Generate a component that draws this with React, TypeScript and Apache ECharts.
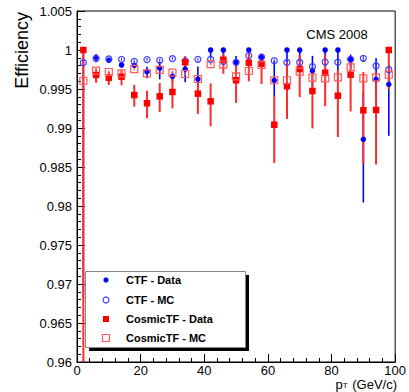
import React, { useEffect, useRef } from "react";
import * as echarts from "echarts";

const PT = [2, 6, 10, 14, 18, 22, 26, 30, 34, 38, 42, 46, 50, 54, 58, 62, 66, 70, 74, 78, 82, 86, 90, 94, 98];

const SERIES_NAMES = ["CTF - Data", "CTF - MC", "CosmicTF - Data", "CosmicTF - MC"];

const ctfData = [1.0, 0.99906, 0.99868, 0.99808, 0.99804, 0.99722, 0.99769, 0.99663, 0.99756, 0.99628, 1.0, 1.0, 0.99842, 1.0, 0.9991, 0.99612, 1.0, 1.0, 0.99735, 1.0, 1.0, 0.99881, 0.98855, 0.99624, 0.9956];
const ctfDataLo = [0.0318, 0.0005, 0.0003, 0.0004, 0.0003, 0.00085, 0.00145, 0.00064, 0.0017, 0.001, 0.001, 0.0008, 0.0008, 0.0007, 0.0008, 0.0021, 0.0016, 0.0016, 0.003, 0.0013, 0.0026, 0.0012, 0.0081, 0.003, 0.0066];
const ctfDataHi = [0, 0.0004, 0.0003, 0.0004, 0.0003, 0.00064, 0.0008, 0.00064, 0.0005, 0.0016, 0, 0, 0.0008, 0, 0.0004, 0.0025, 0, 0, 0.0019, 0, 0, 0.0006, 0.006, 0.0027, 0.0025];

const ctfMC = [0.99837, 0.99888, 0.99885, 0.99881, 0.99855, 0.99876, 0.99868, 0.99888, 0.99859, 0.99881, 0.99881, 0.99855, 0.99842, 0.99927, 0.9991, 0.99863, 0.9984, 0.9984, 0.99786, 0.99846, 0.99844, 0.99881, 0.99894, 0.99795, 0.99747];
const ctfMCErr = [0.0002, 0.0002, 0.0002, 0.0002, 0.0002, 0.0002, 0.0002, 0.0002, 0.0002, 0.0002, 0.0002, 0.0002, 0.0002, 0.0002, 0.0002, 0.0002, 0.0002, 0.0002, 0.0002, 0.0002, 0.0002, 0.0002, 0.0004, 0.0002, 0.0002];

const cosData = [1.0, 0.99679, 0.99645, 0.99658, 0.99423, 0.99317, 0.99406, 0.99462, 0.99842, 0.9944, 0.99342, 0.99876, 0.99612, 0.99837, 0.99824, 0.99042, 0.99535, 0.99756, 0.99474, 0.99709, 0.99414, 0.99683, 0.99227, 0.99231, 1.0];
const cosDataLo = [0.05, 0.00099, 0.00094, 0.0011, 0.0015, 0.0019, 0.002, 0.0021, 0.00077, 0.0026, 0.0032, 0.0018, 0.0029, 0.0024, 0.0026, 0.0049, 0.0042, 0.0036, 0.0048, 0.0043, 0.0053, 0.0047, 0.0069, 0.007, 0.0051];
const cosDataHi = [0, 0.00086, 0.00077, 0.00086, 0.0013, 0.0016, 0.0017, 0.0018, 0.0008, 0.0013, 0.0023, 0.0008, 0.0022, 0.0012, 0.0013, 0.0037, 0.003, 0.0018, 0.0029, 0.0023, 0.0033, 0.0023, 0.0049, 0.0047, 0];

const cosMC = [0.99606, 0.99735, 0.99718, 0.99701, 0.99756, 0.99701, 0.99744, 0.99709, 0.99692, 0.99628, 0.9982, 0.99812, 0.99663, 0.99731, 0.99808, 0.99612, 0.99612, 0.99722, 0.99645, 0.99637, 0.9965, 0.99778, 0.99637, 0.9965, 0.99683];
const cosMCErr = [0.0002, 0.0002, 0.0002, 0.0002, 0.0002, 0.0002, 0.0002, 0.0002, 0.0002, 0.0002, 0.0002, 0.0002, 0.0002, 0.0002, 0.0002, 0.0002, 0.0002, 0.0002, 0.0002, 0.0002, 0.0002, 0.0002, 0.0002, 0.0002, 0.0002];

const FONT = "'Liberation Sans', Arial, Helvetica, sans-serif";

const BLUE = "#0000ff";
const BLUE_OPEN = "#3c3cff";
const RED = "#ff0000";
const RED_ERR = "#ff2a2a";
const RED_OPEN = "#ff5a5a";

function errData(v: number[], lo: number[], hi: number[]) {
  return PT.map((x, i) => [x, v[i], v[i] - lo[i], v[i] + hi[i]]);
}

function errSeries(data: number[][], color: string, width: number) {
  return {
    type: "custom",
    clip: true,
    silent: true,
    encode: { x: 0, y: [1, 2, 3] },
    renderItem: (params: any, api: any) => {
      const x = api.value(0);
      const p1 = api.coord([x, api.value(2)]);
      const p2 = api.coord([x, api.value(3)]);
      return {
        type: "line",
        shape: { x1: p1[0], y1: p1[1], x2: p2[0], y2: p2[1] },
        style: { stroke: color, lineWidth: width },
      };
    },
    data,
  };
}

function pointSeries(name: string, v: number[], symbol: string, size: number, fill: string, stroke: string) {
  return {
    type: "scatter",
    name,
    clip: true,
    silent: true,
    symbol,
    symbolSize: size,
    itemStyle: { color: fill, borderColor: stroke, borderWidth: fill === "none" ? 1.2 : 0, opacity: 1 },
    data: PT.map((x, i) => [x, v[i]]),
  };
}

export default function App() {
  const ref = useRef<HTMLDivElement>(null);
  useEffect(() => {
    const chart = echarts.init(ref.current!, undefined, { renderer: "svg" });
    const legendMarkers = [
      { type: "circle", shape: { cx: 106, cy: 280, r: 2.6 }, style: { fill: BLUE } },
      { type: "circle", shape: { cx: 106, cy: 300, r: 3 }, style: { fill: "none", stroke: BLUE_OPEN, lineWidth: 1.2 } },
      { type: "rect", shape: { x: 103, y: 316, width: 6, height: 6 }, style: { fill: RED } },
      { type: "rect", shape: { x: 102.5, y: 334.5, width: 7, height: 7 }, style: { fill: "none", stroke: RED_OPEN, lineWidth: 1.2 } },
    ];
    const legendRows = [280, 300, 319, 338];
    chart.setOption({
      animation: false,
      backgroundColor: "#fff",
      grid: { left: 77, right: 11, top: 11, bottom: 30, show: true, borderColor: "#000", borderWidth: 1, backgroundColor: "transparent" },
      xAxis: {
        type: "value",
        min: 0,
        max: 100,
        interval: 20,
        axisLine: { lineStyle: { color: "#000", width: 1 } },
        axisTick: { inside: true, length: 8, lineStyle: { color: "#000" } },
        minorTick: { show: true, splitNumber: 5, length: 4, lineStyle: { color: "#000" } },
        splitLine: { show: false },
        minorSplitLine: { show: false },
        axisLabel: { color: "#000", fontSize: 13, fontFamily: FONT, margin: 2 },
      },
      yAxis: {
        type: "value",
        min: 0.96,
        max: 1.005,
        interval: 0.005,
        axisLine: { lineStyle: { color: "#000", width: 1 } },
        axisTick: { inside: true, length: 8, lineStyle: { color: "#000" } },
        minorTick: { show: true, splitNumber: 5, length: 4, lineStyle: { color: "#000" } },
        splitLine: { show: false },
        minorSplitLine: { show: false },
        axisLabel: {
          color: "#000",
          fontSize: 13,
          fontFamily: FONT,
          margin: 5,
          formatter: (v: number) => String(parseFloat(v.toFixed(3))),
        },
      },
      series: [
        errSeries(errData(ctfData, ctfDataLo, ctfDataHi), BLUE, 1.6),
        pointSeries(SERIES_NAMES[0], ctfData, "circle", 5.5, BLUE, BLUE),
        errSeries(errData(ctfMC, ctfMCErr, ctfMCErr), BLUE_OPEN, 1.2),
        pointSeries(SERIES_NAMES[1], ctfMC, "circle", 6, "none", BLUE_OPEN),
        errSeries(errData(cosData, cosDataLo, cosDataHi), RED_ERR, 2),
        pointSeries(SERIES_NAMES[2], cosData, "rect", 6.5, RED, RED),
        errSeries(errData(cosMC, cosMCErr, cosMCErr), RED_OPEN, 1.2),
        pointSeries(SERIES_NAMES[3], cosMC, "rect", 7, "none", RED_OPEN),
      ],
      graphic: [
        {
          type: "text",
          x: 22,
          y: 12,
          rotation: Math.PI / 2,
          style: { text: "Efficiency", font: `18px ${FONT}`, fill: "#000", align: "right", verticalAlign: "middle" },
        },
        {
          type: "text",
          x: 397,
          y: 378,
          style: {
            text: "{a|p}{b|T}{a| (GeV/c)}",
            fill: "#000",
            align: "right",
            verticalAlign: "top",
            rich: {
              a: { fontSize: 13, fontFamily: FONT, fill: "#000", lineHeight: 11, verticalAlign: "top" },
              b: { fontSize: 8, fontFamily: FONT, fill: "#000", lineHeight: 7, verticalAlign: "bottom", padding: [8, 1, 0, 0] },
            },
          },
        },
        {
          type: "text",
          x: 337,
          y: 34,
          style: { text: "CMS 2008", font: `13px ${FONT}`, fill: "#000", align: "center", verticalAlign: "middle" },
        },
        {
          type: "group",
          z: 100,
          children: [
            { type: "rect", shape: { x: 89, y: 275, width: 160, height: 76 }, style: { fill: "#000" } },
            { type: "rect", shape: { x: 85.5, y: 271.5, width: 160, height: 76 }, style: { fill: "#fff", stroke: "#888", lineWidth: 1 } },
            ...legendMarkers,
            ...SERIES_NAMES.map((n, i) => ({
              type: "text",
              x: 126,
              y: legendRows[i],
              style: { text: n, font: `bold 11px ${FONT}`, fill: "#000", align: "left", verticalAlign: "middle" },
            })),
          ],
        },
      ],
    });
    return () => chart.dispose();
  }, []);
  return <div ref={ref} style={{ position: "fixed", left: 0, top: 0, width: 409, height: 392 }} />;
}
